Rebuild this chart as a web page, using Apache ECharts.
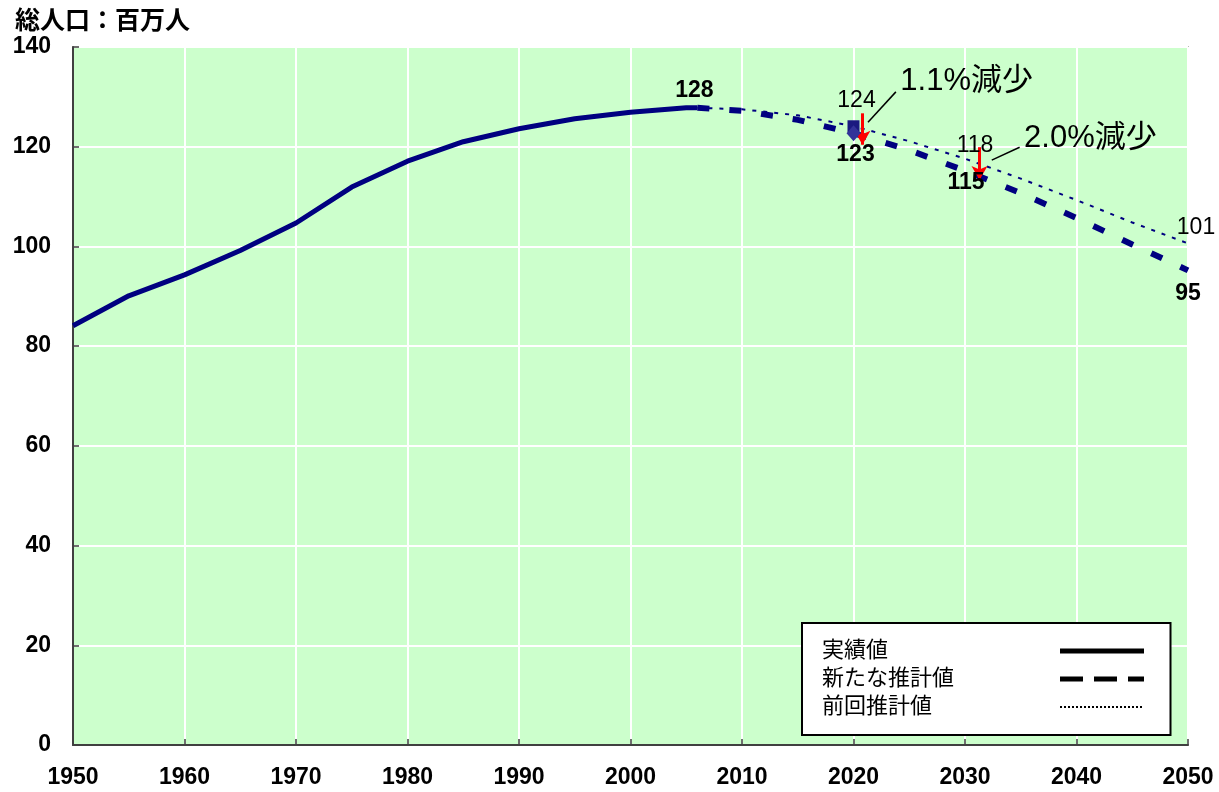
<!DOCTYPE html>
<html>
<head>
<meta charset="utf-8">
<script src="https://cdn.jsdelivr.net/npm/echarts@6/dist/echarts.min.js"></script>
<style>
  html, body { margin: 0; padding: 0; background: #fff; }
  #chart { width: 1219px; height: 792px; }
</style>
</head>
<body>
<div id="chart"></div>
<script>
// 実績値
const actualYears = [1950, 1955, 1960, 1965, 1970, 1975, 1980, 1985, 1990, 1995, 2000, 2005, 2006]
const actualValues = [84.1, 90.1, 94.3, 99.2, 104.7, 111.9, 117.1, 121.0, 123.6, 125.6, 126.9, 127.8, 127.8]

// 推計値 (新たな / 前回)
const projYears = [2006, 2010, 2015, 2020, 2025, 2030, 2035, 2040, 2045, 2050]
const newValues = [127.8, 127.2, 125.4, 122.7, 119.3, 115.2, 110.7, 105.7, 100.4, 95.2]
const prevValues = [127.8, 127.5, 126.3, 124.1, 121.1, 117.6, 113.6, 109.3, 104.8, 100.6]

const xTicks = [1950, 1960, 1970, 1980, 1990, 2000, 2010, 2020, 2030, 2040, 2050]
const yTicks = [0, 20, 40, 60, 80, 100, 120, 140]

// 減少の注記
const dropNotes = [
    { text: '1.1%減少', arrowX: 2020.8, from: 126.7, to: 120.4, lineFrom: [2021.3, 124.9], lineTo: [2023.8, 131.0], textAt: [2024.2, 133.0] },
    { text: '2.0%減少', arrowX: 2031.3, from: 119.9, to: 113.3, lineFrom: [2032.4, 117.3], lineTo: [2034.9, 119.9], textAt: [2035.3, 121.7] }
]

const FONT = '"Liberation Sans", "Noto Sans CJK JP", sans-serif'
const NAVY = '#000080'

const pair = (xs, ys) => xs.map((x, i) => [x, ys[i]])
const at = (year, xs, ys) => [year, ys[xs.indexOf(year)]]

function valueLabel(point, bold, pos, dist, offset) {
    return {
        value: point,
        label: {
            show: true,
            formatter: () => String(Math.round(point[1])),
            position: pos,
            distance: dist,
            offset: offset || [0, 0],
            fontSize: 23,
            fontWeight: bold ? 'bold' : 'normal',
            color: '#000',
            fontFamily: FONT
        }
    }
}

let labelData = [
    valueLabel(at(2006, actualYears, actualValues), true, 'top', 6, [-3, 0]),
    valueLabel(at(2020, projYears, prevValues), false, 'top', 14, [3, 0]),
    valueLabel(at(2030, projYears, prevValues), false, 'top', 2, [10, 0]),
    valueLabel(at(2050, projYears, prevValues), false, 'top', 4, [8, 0]),
    valueLabel(at(2020, projYears, newValues), true, 'bottom', 10, [2, 0]),
    valueLabel(at(2030, projYears, newValues), true, 'bottom', 1, [1, 0]),
    valueLabel(at(2050, projYears, newValues), true, 'bottom', 12, [0, 0])
]

let markLines = []
dropNotes.forEach(n => {
    markLines.push([
        { coord: [n.arrowX, n.from], symbol: 'none', lineStyle: { color: '#ff0000', width: 3, type: 'solid' } },
        { coord: [n.arrowX, n.to], symbol: 'arrow', symbolSize: [12, 14] }
    ])
    markLines.push([
        { coord: n.lineFrom, symbol: 'none', lineStyle: { color: '#000', width: 1.5, type: 'solid' } },
        { coord: n.lineTo, symbol: 'none' }
    ])
})

let noteData = dropNotes.map(n => ({
    value: n.textAt,
    label: {
        show: true, formatter: n.text, position: 'right', distance: 0,
        fontSize: 31, color: '#000', fontFamily: FONT
    }
}))

let option = {
    animation: false,
    title: {
        text: '総人口：百万人',
        left: 10,
        top: 5,
        textStyle: { fontSize: 25, fontWeight: 'bold', color: '#000', fontFamily: FONT }
    },
    legend: {
        orient: 'vertical',
        left: 802,
        top: 623,
        align: 'right',
        backgroundColor: '#fff',
        borderColor: '#000',
        borderWidth: 2,
        borderRadius: 0,
        padding: [17, 24, 17, 20],
        itemWidth: 84,
        itemHeight: 20,
        itemGap: 6,
        itemStyle: { color: 'rgba(0,0,0,0)', borderWidth: 0, opacity: 0 },
        formatter: name => '{t|' + name + '}',
        textStyle: {
            fontSize: 22, color: '#000', fontFamily: FONT,
            rich: { t: { width: 233, align: 'left', fontSize: 22, color: '#000', fontFamily: FONT } }
        },
        data: [
            { name: '実績値', lineStyle: { color: '#000', width: 5, type: 'solid' } },
            { name: '新たな推計値', lineStyle: { color: '#000', width: 5, type: [23, 11] } },
            { name: '前回推計値', lineStyle: { color: '#000', width: 2, type: [2, 2] } }
        ]
    },
    grid: {
        left: 73,
        right: 31,
        top: 47,
        bottom: 47,
        show: true,
        backgroundColor: '#CCFFCC',
        borderColor: '#808080',
        borderWidth: 1.5
    },
    xAxis: {
        type: 'value',
        min: xTicks[0],
        max: xTicks[xTicks.length - 1],
        interval: 10,
        axisLine: { show: true, lineStyle: { color: '#404040', width: 2 } },
        axisTick: { show: true, inside: true, length: 6, lineStyle: { color: '#404040', width: 1.5 } },
        splitLine: { show: true, lineStyle: { color: '#fff', width: 2 } },
        axisLabel: { margin: 21, fontSize: 23, fontWeight: 'bold', color: '#000', fontFamily: FONT, formatter: v => String(v) }
    },
    yAxis: {
        type: 'value',
        min: yTicks[0],
        max: yTicks[yTicks.length - 1],
        interval: 20,
        axisLine: { show: true, lineStyle: { color: '#404040', width: 2 } },
        axisTick: { show: true, inside: true, length: 6, lineStyle: { color: '#404040', width: 1.5 } },
        splitLine: { show: true, lineStyle: { color: '#fff', width: 2 } },
        axisLabel: { margin: 22, fontSize: 23, fontWeight: 'bold', color: '#000', fontFamily: FONT }
    },
    series: [
        {
            name: '前回推計値',
            type: 'line',
            symbol: 'none',
            data: pair(projYears, prevValues),
            lineStyle: { color: NAVY, width: 2, type: [4, 7] },
            z: 2
        },
        {
            name: '新たな推計値',
            type: 'line',
            symbol: 'none',
            data: pair(projYears, newValues),
            lineStyle: { color: NAVY, width: 6, type: [12, 20] },
            z: 3
        },
        {
            name: '実績値',
            type: 'line',
            symbol: 'none',
            data: pair(actualYears, actualValues),
            lineStyle: { color: NAVY, width: 5, type: 'solid' },
            z: 4
        },
        {
            name: 'marker-prev',
            type: 'scatter',
            symbol: 'rect',
            symbolSize: 12,
            itemStyle: { color: '#1a1a80', opacity: 1 },
            data: [at(2020, projYears, prevValues)],
            z: 5
        },
        {
            name: 'marker-new',
            type: 'scatter',
            symbol: 'diamond',
            symbolSize: [14, 16],
            itemStyle: { color: '#333399', opacity: 1 },
            data: [at(2020, projYears, newValues)],
            z: 6
        },
        {
            name: 'labels',
            type: 'scatter',
            symbolSize: 0,
            silent: true,
            itemStyle: { opacity: 1 },
            data: labelData,
            z: 7
        },
        {
            name: 'notes',
            type: 'scatter',
            symbolSize: 0,
            silent: true,
            itemStyle: { opacity: 1 },
            data: noteData,
            markLine: {
                silent: true,
                label: { show: false },
                animation: false,
                data: markLines
            },
            z: 8
        }
    ]
}

let chart = echarts.init(document.getElementById('chart'))
chart.setOption(option)
</script>
</body>
</html>
